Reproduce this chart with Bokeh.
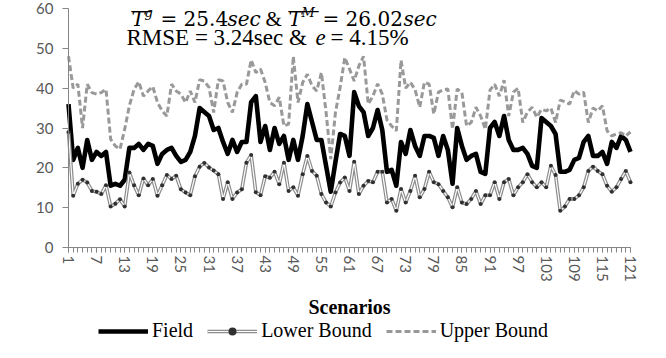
import math
from bokeh.plotting import figure
from bokeh.models import Range1d, FixedTicker, Label, Legend, LegendItem, ColumnDataSource
from bokeh.embed import file_html
from bokeh.resources import INLINE

scenarios = list(range(1, 122))
field = [36, 22, 25, 20, 27, 22, 24, 23, 24, 15.5,
         16, 15.5, 17, 25, 25, 26, 24.5, 26, 25.5, 21,
         23.5, 24.5, 25, 23, 21.5, 22, 24, 28, 35, 34,
         33, 29.5, 30, 26.5, 23.5, 27, 24, 26.5, 26.5, 36.5,
         38, 26.5, 30.5, 24.5, 30, 26, 28, 22, 27, 22,
         28, 36, 31.5, 27, 27, 20.5, 14, 21.5, 28.5, 28,
         23, 39, 35.5, 34, 28, 30, 34.5, 29.5, 19, 19.5,
         15.5, 26.5, 23.5, 29.5, 25.5, 23, 28, 28, 27.5, 23,
         28, 24.5, 16, 30, 25.5, 22, 23, 23.5, 19, 18.5,
         30, 31.5, 28, 33, 27, 24.5, 24.5, 25, 23.5, 20.5,
         20, 32.5, 31.5, 30.5, 28.5, 19, 19, 19.5, 22, 22.5,
         26.5, 28, 23, 23, 24, 21, 26.5, 25, 28, 27,
         24]
lower = [29, 13, 16, 17, 16.3, 14.2, 14, 13.4, 15.6, 10.3,
         11, 12.1, 10.3, 18.8, 15.6, 13.1, 17.3, 15.6, 17.2, 13,
         15.6, 18.2, 17.2, 18, 14.6, 13.8, 13.1, 17.9, 20.3, 21.2,
         20.1, 19.3, 18.4, 12.2, 16.4, 12.2, 13.8, 14.6, 21.3, 23.2,
         13.9, 13.1, 17.9, 17.5, 19, 15.9, 21.3, 14.2, 15.1, 13,
         18.4, 23, 19.2, 18, 13.4, 11.3, 10.3, 13.8, 16.3, 17.6,
         14.2, 21.5, 13.4, 15.5, 16.7, 16.4, 19, 19, 11.3, 12.2,
         9.2, 14.7, 11.3, 14.2, 18, 12.6, 14.7, 19, 16.4, 15.9,
         14.2, 12.6, 10.1, 15.1, 11.3, 10.9, 12.2, 14.2, 10.9, 13.1,
         13.1, 16.4, 12.2, 16.4, 17.2, 13.1, 15.1, 16.4, 18.4, 16.4,
         15.1, 16.4, 15.1, 20.5, 18.2, 9.2, 10.3, 12.2, 12.2, 13.1,
         15.1, 19.2, 20.3, 19.2, 18.4, 15.5, 14, 15.1, 17.2, 19.2,
         16.4]
upper = [48, 40, 41, 30, 41, 38.9, 38.5, 38.9, 39.7, 27.2,
         25.5, 24.7, 29.7, 35.6, 39.7, 41.6, 38, 39.3, 40.4, 36.4,
         34.3, 33, 41, 39.3, 38.5, 36.4, 39.3, 36.4, 42.1, 41.8,
         40.2, 33.9, 42.1, 41.8, 36.4, 33.9, 38.9, 41, 41, 47.1,
         43.9, 44.8, 41.4, 36.4, 35.6, 37.7, 30.5, 31, 48, 36.4,
         41.4, 43.5, 40.6, 39.3, 43.9, 33.9, 22.2, 33.9, 40.2, 47.7,
         44.8, 41.8, 45.6, 48, 36, 38, 41.1, 38.5, 32, 30.5,
         29.3, 47, 40, 41.5, 39.6, 35.2, 41.5, 41, 33.5, 39,
         39.6, 39.8, 29.7, 39.8, 38.9, 30.5, 31.4, 35.2, 33, 29.7,
         39.5, 41, 38, 42, 33, 39, 40, 31.4, 34, 35.2,
         32.7, 34.7, 34.3, 35, 31.4, 37, 36.6, 36, 39.4, 38.5,
         39, 31.4, 35, 34.3, 35.6, 29.3, 28, 28.5, 28.8, 28,
         29]
x_tick_labels = list(range(1, 122, 6))
y_ticks = [0, 10, 20, 30, 40, 50, 60]

src = ColumnDataSource(dict(x=scenarios, field=field, lower=lower, upper=upper))

W, H = 650, 342
FL, FR = 30, 8                 # frame edges (canvas px); frame is larger than the axes box
AX_L, AX_R = 68, 630           # canvas x of scenario 1 and scenario 121
TOP_Y, ZERO_Y = 8, 247         # canvas y of the values 60 and 0
px = (AX_R - AX_L) / (scenarios[-1] - scenarios[0])
x_start = scenarios[0] - (AX_L - FL) / px
x_end = scenarios[-1] + (W - FR - AX_R) / px
py = (ZERO_Y - TOP_Y) / 60.0
y_start = -(H - ZERO_Y) / py
y_end = 60 + TOP_Y / py

p = figure(width=W, height=H, output_backend="svg", toolbar_location=None, title=None,
           x_range=Range1d(x_start, x_end), y_range=Range1d(y_start, y_end),
           min_border_left=FL, min_border_right=FR, min_border_top=0, min_border_bottom=0)
p.xgrid.visible = False
p.ygrid.visible = False
p.outline_line_color = None

axis_col = "#868686"
lab_col = "#595959"
for ax in (p.xaxis[0], p.yaxis[0]):
    ax.axis_line_color = axis_col
    ax.major_tick_line_color = axis_col
    ax.minor_tick_line_color = axis_col
    ax.major_label_text_color = lab_col
    ax.major_label_text_font = "Lato"
    ax.major_label_text_font_size = "15px"
    ax.axis_label_text_font = "Liberation Serif"
    ax.axis_label_text_font_style = "bold"
    ax.axis_label_text_font_size = "20px"
    ax.axis_label_text_color = "black"
    ax.major_tick_in = 0

p.yaxis.fixed_location = scenarios[0]
p.yaxis.ticker = FixedTicker(ticks=y_ticks)
p.yaxis.bounds = (0, 60)
p.yaxis.major_tick_out = 6
p.yaxis.major_label_standoff = 9

p.xaxis.fixed_location = 0
p.xaxis.bounds = (scenarios[0], scenarios[-1])
p.xaxis.ticker = FixedTicker(ticks=x_tick_labels, minor_ticks=scenarios)
p.xaxis.major_tick_out = 5
p.xaxis.minor_tick_out = 5
p.xaxis.minor_tick_in = 0
p.xaxis.major_label_orientation = "vertical"
p.xaxis.major_label_standoff = 3
p.xaxis.axis_label = "Scenarios"
p.xaxis.axis_label_standoff = 11

rf = p.line("x", "field", source=src, line_color="black", line_width=4.6, line_join="round")
rl1 = p.line("x", "lower", source=src, line_color="#8c8c8c", line_width=3.6)
rl2 = p.line("x", "lower", source=src, line_color="white", line_width=1.2)
rl3 = p.scatter("x", "lower", source=src, size=4, fill_color="#303030", line_color=None)
ru = p.line("x", "upper", source=src, line_color="#999999", line_width=3, line_dash="6 3")

legend = Legend(items=[LegendItem(label="Field", renderers=[rf]),
                       LegendItem(label="Lower Bound", renderers=[rl1, rl2, rl3]),
                       LegendItem(label="Upper Bound", renderers=[ru])],
                orientation="horizontal", location=(98 - FL, 0), glyph_width=50, glyph_height=20,
                label_standoff=4, spacing=14, padding=0, margin=0, border_line_color=None,
                background_fill_alpha=0, label_text_font="Liberation Serif",
                label_text_font_size="20px", label_height=20, label_text_color="black")
p.add_layout(legend)


def txt(x_fig, base_fig, s, font="Liberation Serif", size=22, style="normal", **kw):
    p.add_layout(Label(x=x_fig - FL, y=H - base_fig, x_units="screen",
                       y_units="screen", text=s, text_font=font, text_font_size=f"{size}px",
                       text_font_style=style, text_color="black", **kw))


# y-axis title
txt(17, (ZERO_Y + TOP_Y) / 2, "Time Delay (sec)", size=20, style="bold", angle=math.pi / 2,
    text_align="center", text_baseline="middle")

# annotation text (positions in canvas pixels)
L1 = 18
kw = dict(text_baseline="alphabetic")
txt(131, L1, "T", "DejaVu Serif", 20, "italic", **kw)
txt(144, L1 - 6, "g", "DejaVu Serif", 13, "italic", **kw)
txt(131, L1, "\u203e\u203e", "DejaVu Sans", 20, **kw)
txt(160, L1, "= 25.4", "DejaVu Serif", 20, **kw)
txt(227, L1, "sec", "DejaVu Serif", 20, "italic", **kw)
txt(265, L1, "&", "Liberation Serif", 21, **kw)
txt(288, L1, "T", "DejaVu Serif", 20, "italic", **kw)
txt(301, L1 - 6, "M", "DejaVu Serif", 13, "italic", **kw)
txt(288, L1, "\u203e\u203e\u203e", "DejaVu Sans", 20, **kw)
txt(322, L1, "= 26.02", "DejaVu Serif", 20, **kw)
txt(403, L1, "sec", "DejaVu Serif", 20, "italic", **kw)

L2 = 37
txt(126, L2, "RMSE = 3.24sec &", size=23, **kw)
txt(315, L2, "e", size=23, style="italic", **kw)
txt(330, L2, "= 4.15%", size=23, **kw)

open("out.html", "w").write(file_html(p, INLINE))
